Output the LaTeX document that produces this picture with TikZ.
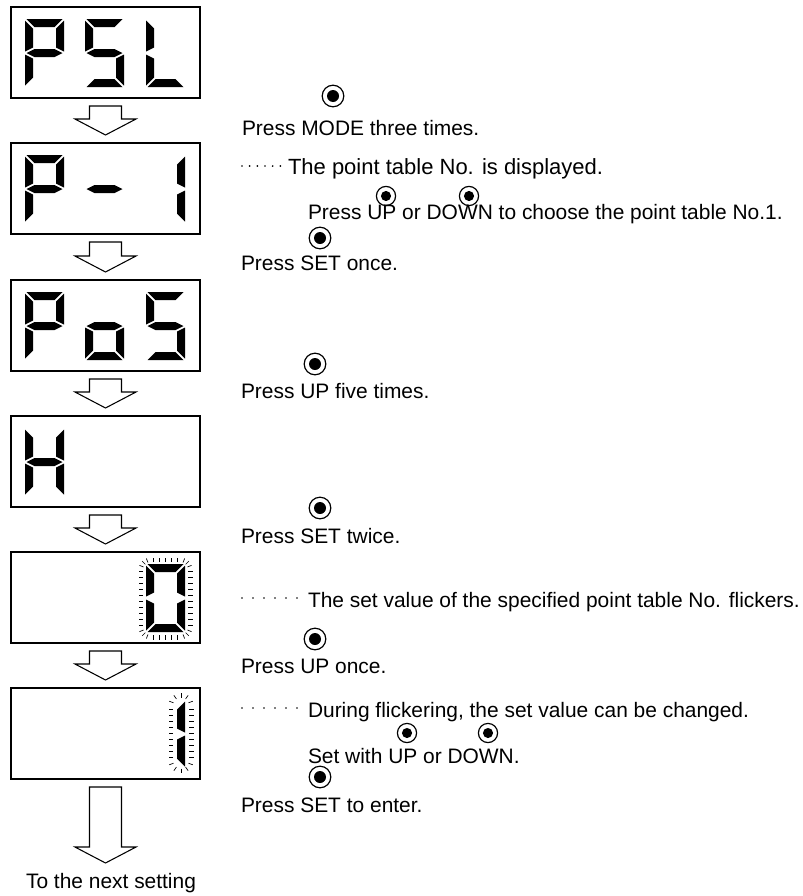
\documentclass[tikz,border=0pt]{standalone}
\usepackage{fontspec}
\setmainfont{Liberation Sans}
\usetikzlibrary{calc}
\tikzset{
  disp/.style={draw, line width=1pt, rectangle, inner sep=0pt, outer sep=0pt,
    minimum width=141.75pt, minimum height=68.25pt},
  blockarr/.style={draw, line width=0.8pt, fill=white, line join=miter},
  txt/.style={inner sep=0pt, outer sep=0pt, font=\fontsize{15.7}{18}\selectfont, anchor=base west},
  btnbig/.style={circle, draw, line width=0.9pt, inner sep=0pt, minimum size=16.2pt,
    path picture={\fill (path picture bounding box.center) circle (4.5pt);}},
  btnsmall/.style={circle, draw, line width=0.9pt, inner sep=0pt, minimum size=14.4pt,
    path picture={\fill (path picture bounding box.center) circle (3.8pt);}},
  tick/.style={line width=0.5pt},
}
% seven-segment pieces, #1 = left x, #2 = top y (px units, y downward)
\newcommand\dsegA[2]{\fill (#1+1.5,#2) -- (#1+37.5,#2) -- (#1+29.5,#2+8) -- (#1+9.5,#2+8) -- cycle;}
\newcommand\dsegB[2]{\fill (#1+39,#2+1.5) -- (#1+39,#2+32.5) -- (#1+31,#2+28.5) -- (#1+31,#2+9.5) -- cycle;}
\newcommand\dsegC[2]{\fill (#1+39,#2+35.5) -- (#1+39,#2+66.5) -- (#1+31,#2+58.5) -- (#1+31,#2+39.5) -- cycle;}
\newcommand\dsegD[2]{\fill (#1+9.5,#2+60) -- (#1+29.5,#2+60) -- (#1+37.5,#2+68) -- (#1+1.5,#2+68) -- cycle;}
\newcommand\dsegE[2]{\fill (#1,#2+35.5) -- (#1+8,#2+39.5) -- (#1+8,#2+58.5) -- (#1,#2+66.5) -- cycle;}
\newcommand\dsegF[2]{\fill (#1,#2+1.5) -- (#1+8,#2+9.5) -- (#1+8,#2+28.5) -- (#1,#2+32.5) -- cycle;}
\newcommand\dsegG[2]{\fill (#1+1.5,#2+34) -- (#1+9.5,#2+30) -- (#1+29.5,#2+30) -- (#1+37.5,#2+34) -- (#1+29.5,#2+38) -- (#1+9.5,#2+38) -- cycle;}
\newcommand\dgt[3]{\foreach \s in {#3}{\csname dseg\s\endcsname{#1}{#2}}}
\newcommand\blkarrow[2]{\draw[blockarr] let \p1=(#1), \p2=(#2) in
  (\x1-12pt,\y1) -- (\x1+12pt,\y1) -- (\x1+12pt,\y2+12pt) -- (\x1+22.9pt,\y2+12pt)
  -- (\x1,\y2) -- (\x1-22.9pt,\y2+12pt) -- (\x1-12pt,\y2+12pt) -- cycle;}
\newcommand\dotrow[3]{\foreach \i in {0,...,5}{\fill (#1+#3*\i,#2) circle (0.7pt);}}

\begin{document}
\begin{tikzpicture}[x=0.75pt, y=-0.75pt]
\useasboundingbox (0,0) rectangle (803,896);

% display boxes
\node[disp] (d1) at (105.5,52.5) {};
\node[disp] (d2) at (105.5,188.5) {};
\node[disp] (d3) at (105.5,325.5) {};
\node[disp] (d4) at (105.5,461.5) {};
\node[disp] (d5) at (105.5,597.5) {};
\node[disp] (d6) at (105.5,733.5) {};

% digits
\dgt{25}{19}{A,B,F,G,E}
\dgt{85}{19}{A,F,G,C,D}
\dgt{146}{19}{F,E,D}
\dgt{25}{155}{A,B,F,G,E}
\dgt{85}{155}{G}
\dgt{146}{155}{B,C}
\dgt{25}{292}{A,B,F,G,E}
\dgt{85}{292}{G,C,D,E}
\dgt{146}{292}{A,F,G,C,D}
\dgt{25}{428}{B,C,E,F,G}
\dgt{146}{564}{A,B,C,D,E,F}
\dgt{146}{700}{B,C}

% flicker ticks around 0
\foreach \xx in {-12,-6,...,12}{
  \draw[tick] (165.5+\xx,562) -- (165.5+\xx,557.5);
  \draw[tick] (165.5+\xx,635) -- (165.5+\xx,639.5);}
\foreach \yy in {-27,-21,...,27}{
  \draw[tick] (143,598.5+\yy) -- (138.5,598.5+\yy);
  \draw[tick] (188,598.5+\yy) -- (192.5,598.5+\yy);}
\foreach \sx in {-1,1}{\foreach \sy in {-1,1}{\foreach \t in {22,45,68}{
  \draw[tick] ({165.5+\sx*(14.5+8*cos(\t))},{598.5+\sy*(28.5+8*sin(\t))})
    -- ({165.5+\sx*(14.5+12.5*cos(\t))},{598.5+\sy*(28.5+12.5*sin(\t))});}}}

% flicker ticks around 1
\foreach \yy in {-24,-18,...,24}{
  \draw[tick] (173,733+\yy) -- (168.5,733+\yy);
  \draw[tick] (189,733+\yy) -- (193.5,733+\yy);}
\foreach \sy in {-1,1}{\foreach \t in {20,55,90,125,160}{
  \draw[tick] ({181+8*cos(\t)},{733+\sy*(27.5+8*sin(\t))})
    -- ({181+12.5*cos(\t)},{733+\sy*(27.5+12.5*sin(\t))});}}

% block arrows
\path ($(d1.south)+(0,8)$) coordinate (a1s) ($(d2.north)+(0,-8)$) coordinate (a1e);
\path ($(d2.south)+(0,8)$) coordinate (a2s) ($(d3.north)+(0,-8)$) coordinate (a2e);
\path ($(d3.south)+(0,8)$) coordinate (a3s) ($(d4.north)+(0,-8)$) coordinate (a3e);
\path ($(d4.south)+(0,8)$) coordinate (a4s) ($(d5.north)+(0,-8)$) coordinate (a4e);
\path ($(d5.south)+(0,8)$) coordinate (a5s) ($(d6.north)+(0,-8)$) coordinate (a5e);
\path ($(d6.south)+(0,8)$) coordinate (a6s);
\coordinate (endtip) at (105.5,863);
\blkarrow{a1s}{a1e}
\blkarrow{a2s}{a2e}
\blkarrow{a3s}{a3e}
\blkarrow{a4s}{a4e}
\blkarrow{a5s}{a5e}
\blkarrow{a6s}{endtip}

% instructions
\node[btnbig] (b1) at (333,96) {};
\node[txt] (t1) at (242,135) {Press MODE three times.};
\dotrow{242}{166}{7.67}
\node[txt, font=\fontsize{16.5}{18}\selectfont] (t2) at (288,174) {The point table No. is displayed.};
\node[btnsmall] (b2) at (386,196) {};
\node[btnsmall] (b3) at (469,196) {};
\node[txt] (t3) at (308,219) {Press UP or DOWN to choose the point table No.1.};
\node[btnbig] (b4) at (320,238) {};
\node[txt] (t4) at (241,270) {Press SET once.};
\node[btnbig] (b5) at (315,364) {};
\node[txt] (t5) at (241,398) {Press UP five times.};
\node[btnbig] (b6) at (320,508) {};
\node[txt] (t6) at (241,543) {Press SET twice.};
\dotrow{242}{598}{11}
\node[txt] (t7) at (308,607) {The set value of the specified point table No. flickers.};
\node[btnbig] (b7) at (315,639) {};
\node[txt] (t8) at (241,673) {Press UP once.};
\dotrow{242}{708}{11}
\node[txt] (t9) at (308,717) {During flickering, the set value can be changed.};
\node[btnsmall] (b8) at (407,733) {};
\node[btnsmall] (b9) at (488,733) {};
\node[txt] (t10) at (308,763) {Set with UP or DOWN.};
\node[btnbig] (b10) at (320,777) {};
\node[txt] (t11) at (241,812) {Press SET to enter.};
\node[txt, anchor=base] (t12) at (111,888) {To the next setting};
\end{tikzpicture}
\end{document}
